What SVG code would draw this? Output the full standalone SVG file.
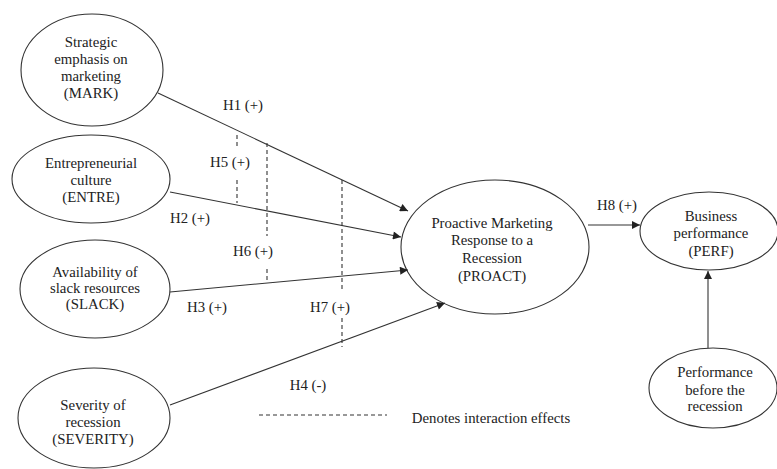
<svg xmlns="http://www.w3.org/2000/svg" width="777" height="469" viewBox="0 0 777 469">
<style>
text{font-family:"Liberation Serif","Times New Roman",serif;font-size:14.8px;fill:#222;text-anchor:middle}
.n ellipse{fill:#fff;stroke:#333;stroke-width:1.1}
.c line{stroke:#333;stroke-width:1.1}
.d line{stroke:#333;stroke-width:1.1;stroke-dasharray:4,3}
</style>
<defs>
<marker id="a" viewBox="0 0 10 10" refX="10" refY="5" markerWidth="10" markerHeight="8" markerUnits="userSpaceOnUse" orient="auto">
<path d="M0,0L10,5L0,10z" fill="#222"/>
</marker>
</defs>
<rect width="777" height="469" fill="#fff"/>
<g class="n" id="mark"><ellipse cx="92" cy="70" rx="71" ry="56"/>
<text x="91" y="47">Strategic</text><text x="91" y="64">emphasis on</text><text x="91" y="81">marketing</text><text x="91" y="98">(MARK)</text></g>
<g class="n" id="entre"><ellipse cx="91" cy="179" rx="79" ry="44"/>
<text x="91" y="168">Entrepreneurial</text><text x="91" y="185">culture</text><text x="91" y="202">(ENTRE)</text></g>
<g class="n" id="slack"><ellipse cx="95" cy="289" rx="75" ry="49"/>
<text x="95" y="277">Availability of</text><text x="95" y="293">slack resources</text><text x="95" y="309">(SLACK)</text></g>
<g class="n" id="severity"><ellipse cx="94" cy="418" rx="76" ry="50"/>
<text x="93" y="410">Severity of</text><text x="93" y="427">recession</text><text x="93" y="444">(SEVERITY)</text></g>
<g class="n" id="proact"><ellipse cx="495" cy="247" rx="94" ry="67"/>
<text x="492" y="228">Proactive Marketing</text><text x="492" y="245">Response to a</text><text x="492" y="263">Recession</text><text x="492" y="281">(PROACT)</text></g>
<g class="n" id="perf"><ellipse cx="709" cy="231" rx="69" ry="39"/>
<text x="711" y="221">Business</text><text x="711" y="238">performance</text><text x="711" y="256">(PERF)</text></g>
<g class="n" id="prior"><ellipse cx="713" cy="388" rx="64" ry="40"/>
<text x="715" y="377">Performance</text><text x="715" y="395">before the</text><text x="715" y="411">recession</text></g>
<g class="c" id="connectors">
<line x1="158" y1="93" x2="408" y2="211" marker-end="url(#a)"/>
<line x1="170" y1="192" x2="401" y2="237" marker-end="url(#a)"/>
<line x1="170" y1="292" x2="408" y2="270" marker-end="url(#a)"/>
<line x1="170" y1="405" x2="445" y2="303" marker-end="url(#a)"/>
<line x1="588" y1="225" x2="640" y2="225" marker-end="url(#a)"/>
<line x1="708" y1="348" x2="708" y2="271" marker-end="url(#a)"/>
</g>
<g class="d" id="interactions">
<line x1="237" y1="135" x2="237" y2="148"/><line x1="237" y1="180" x2="237" y2="203"/>
<line x1="267" y1="143" x2="267" y2="236"/><line x1="267" y1="269" x2="267" y2="283"/>
<line x1="342" y1="180" x2="342" y2="292"/><line x1="342" y1="318" x2="342" y2="347"/>
<line x1="259" y1="415" x2="387" y2="415"/>
</g>
<g id="labels">
<text x="243" y="110">H1 (+)</text>
<text x="230" y="167">H5 (+)</text>
<text x="190" y="223">H2 (+)</text>
<text x="253" y="256">H6 (+)</text>
<text x="207" y="312">H3 (+)</text>
<text x="330" y="312">H7 (+)</text>
<text x="308" y="390">H4 (-)</text>
<text x="617" y="210">H8 (+)</text>
<text x="491" y="423">Denotes interaction effects</text>
</g>
</svg>
